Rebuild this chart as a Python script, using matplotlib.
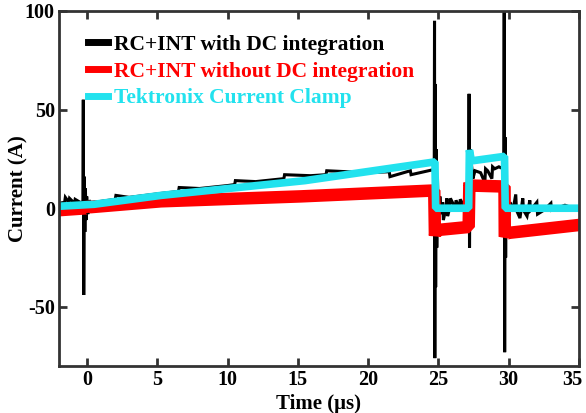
import matplotlib
matplotlib.use("Agg")
import matplotlib.pyplot as plt
import matplotlib.transforms as mtransforms
from matplotlib.lines import Line2D

plt.rcParams['font.family'] = ['Liberation Serif', 'DejaVu Serif']
plt.rcParams['font.weight'] = 'bold'
plt.rcParams['axes.unicode_minus'] = False

# RC+INT with DC integration (time in us, current in A)
black_t = [-2.0, -1.6, -1.55, -1.3, -1.25, -0.9, -0.85, -0.5, -0.3, -0.27, -0.24, -0.2, -0.16,
           -0.12, -0.08, -0.03, 0.05, 0.15, 0.3, 0.5, 1.0, 2.0, 2.05, 3.0, 5.25, 6.5, 6.55,
           8.0, 10.0, 10.5, 10.55, 12.0, 14.0, 14.05, 15.9, 17.0, 17.05, 20.0, 21.5, 21.55,
           23.0, 23.05, 24.6, 24.7, 24.72, 24.74, 24.77, 24.8, 24.84, 24.88, 24.93, 25.0,
           25.1, 25.2, 25.3, 25.35, 25.5, 25.6, 25.65, 25.8, 25.85, 26.2, 26.25, 26.5,
           26.55, 26.9, 26.95, 27.1, 27.15, 27.18, 27.21, 27.25, 27.3, 27.35, 27.45, 27.6,
           28.0, 28.3, 28.35, 28.5, 28.8, 28.85, 29.0, 29.3, 29.6, 29.65, 29.68, 29.71,
           29.74, 29.78, 29.82, 29.87, 29.93, 30.0, 30.1, 30.3, 30.5, 30.55, 30.8, 31.0,
           31.05, 31.3, 31.5, 31.55, 32.0, 32.05, 32.5, 33.0, 33.05, 34.0, 35.0]
black_i = [2.5, 3.0, 5.5, 3.0, 5.0, 2.5, 4.5, 3.0, 3.0, 55.0, -44.0, 16.0, -12.0,
           10.0, -6.0, 6.0, -3.0, 4.0, 2.0, 3.0, 3.5, 4.5, 6.5, 5.5, 7.5, 8.5, 10.5,
           10.0, 11.5, 12.0, 14.0, 13.5, 15.0, 17.0, 16.5, 17.0, 19.0, 18.0, 18.5, 16.0,
           19.0, 17.0, 19.5, 19.0, 95.0, -76.0, 63.0, -40.0, 30.0, -20.0, 15.0, -8.0,
           6.0, -3.0, 3.0, -6.0, -1.0, 5.0, -4.0, 0.0, 5.0, 0.0, 4.0, 0.0,
           4.5, 0.0, 3.5, 0.0, 0.0, 58.0, -20.0, 30.0, 10.0, 22.0, 15.0, 19.0,
           18.0, 13.0, 20.0, 19.0, 15.0, 21.0, 20.0, 21.0, 20.0, 20.0, 110.0, -73.0,
           36.0, -25.0, 20.0, -10.0, 8.0, -4.0, 3.0, -1.0, 7.0, -1.0, -5.0, 5.0,
           -1.0, -4.0, 4.0, -1.0, 3.0, -3.0, -1.0, 2.5, -1.0, 1.5, -1.0]

# RC+INT without DC integration
red_t = [-2.0, 0.0, 0.1, 0.14, 0.2, 5.25, 15.2, 24.7, 24.75, 24.8, 25.0,
         27.15, 27.2, 27.3, 29.7, 29.72, 29.8, 30.0, 35.0]
red_i = [-1.0, 0.0, -1.5, 3.5, 0.5, 3.5, 6.0, 9.0, -14.0, -12.0, -11.0,
         -9.5, 13.0, 11.5, 11.0, -14.5, -13.0, -12.5, -8.5]

# Tektronix current clamp
cyan_t = [-2.0, 0.5, 5.25, 15.5, 24.75, 24.8, 27.15, 27.2, 27.35, 29.7, 29.75, 35.0]
cyan_i = [1.0, 2.0, 6.5, 14.0, 23.5, 0.0, 0.0, 29.5, 24.0, 26.3, 0.0, 0.0]

series_labels = ['RC+INT with DC integration', 'RC+INT without DC integration',
                 'Tektronix Current Clamp']
series_colors = ['#000000', '#ff0000', '#22e2ee']

x_ticks = [0, 5, 10, 15, 20, 25, 30, 35]
y_ticks = [-50, 0, 50, 100]

fig = plt.figure(figsize=(5.86, 4.13), dpi=100)
ax = fig.add_axes([59 / 586, 1 - 366 / 413, 520 / 586, 355 / 413])

ax.plot(black_t, black_i, color=series_colors[0], lw=2.2, solid_joinstyle='miter')
ax.plot(red_t, red_i, color=series_colors[1], lw=9, solid_joinstyle='bevel')
ax.plot(cyan_t, cyan_i, color=series_colors[2], lw=5.5, solid_joinstyle='bevel')

ax.set_xlim(-2, 35)
ax.set_ylim(-80, 100)
ax.set_xticks(x_ticks)
ax.set_yticks(y_ticks)
ax.tick_params(direction='in', top=True, right=True, length=6, width=2,
               labelsize=14.5, color='#333333', pad=3)
for lab in ax.get_xticklabels() + ax.get_yticklabels():
    lab.set_fontweight('bold')
# keep the last time label inside the figure edge
last_lab = ax.get_xticklabels()[-1]
last_lab.set_transform(last_lab.get_transform() +
                       mtransforms.ScaledTranslation(-7 / 100, 0, fig.dpi_scale_trans))
for sp in ax.spines.values():
    sp.set_linewidth(2)
    sp.set_color('#333333')

ax.set_xlabel('Time (μs)', fontsize=15, fontweight='bold')
ax.xaxis.label.set_va('center')
ax.xaxis.set_label_coords(0.5, -0.108)
ax.set_ylabel('Current (A)', fontsize=15, fontweight='bold')
ax.yaxis.label.set_va('center')
ax.yaxis.set_label_coords(-0.078, 0.5)

handles = [Line2D([], [], color=c, lw=5) for c in series_colors]
leg = ax.legend(handles, series_labels, loc='upper left', frameon=False,
                fontsize=15.5, handlelength=0.95, handletextpad=0.25,
                labelspacing=0.31, borderaxespad=0.0,
                bbox_to_anchor=(0.039, 0.957))
for txt, c in zip(leg.get_texts(), series_colors):
    txt.set_color(c)
    txt.set_fontweight('bold')

fig.savefig('out.png', dpi=100)
